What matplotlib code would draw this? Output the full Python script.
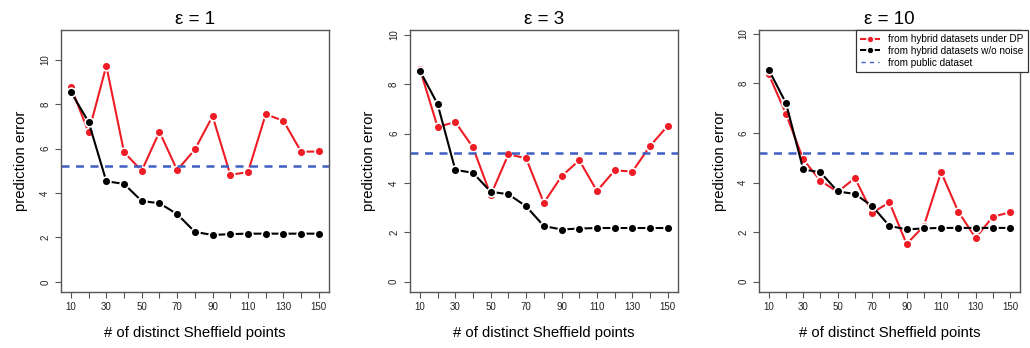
import matplotlib
matplotlib.use("Agg")
from matplotlib import pyplot as plt

plt.rcParams['font.family'] = ['Liberation Sans', 'DejaVu Sans']

# number of distinct Sheffield points
n_points = [10, 20, 30, 40, 50, 60, 70, 80, 90, 100, 110, 120, 130, 140, 150]
n_labels = ["10", "", "30", "", "50", "", "70", "", "90", "", "110", "", "130", "", "150"]

# prediction error, hybrid datasets under DP, one list per epsilon
dp_eps1 = [8.78, 6.73, 9.73, 5.84, 5.00, 6.76, 5.03, 5.96, 7.46, 4.82, 4.94, 7.55, 7.25, 5.86, 5.87]
dp_eps3 = [8.63, 6.27, 6.47, 5.44, 3.50, 5.16, 5.00, 3.19, 4.27, 4.92, 3.67, 4.51, 4.46, 5.50, 6.32]
dp_eps10 = [8.36, 6.77, 4.93, 4.07, 3.62, 4.18, 2.78, 3.20, 1.52, 2.25, 4.42, 2.82, 1.77, 2.62, 2.80]

# hybrid datasets without noise (same in every panel)
no_noise = [8.55, 7.20, 4.53, 4.41, 3.64, 3.54, 3.05, 2.25, 2.11, 2.15, 2.17, 2.17, 2.17, 2.17, 2.17]

# public dataset only
public_err = 5.2

titles = ["ε = 1", "ε = 3", "ε = 10"]
dp_series = [dp_eps1, dp_eps3, dp_eps10]
ylims = [(-0.44, 11.36), (-0.41, 10.22), (-0.40, 10.17)]

# axes boxes in figure fractions (left, bottom, width, height)
boxes = [(0.0592, 0.162, 0.260, 0.753),
         (0.398, 0.162, 0.260, 0.753),
         (0.737, 0.162, 0.253, 0.753)]

RED = '#ee1c25'
BLUE = '#3f5fc2'
BOX = '#555555'

fig = plt.figure(figsize=(10.3, 3.48), dpi=100)

for i in range(3):
    ax = fig.add_axes(boxes[i])
    ax.plot(n_points, dp_series[i], color=RED, lw=1.5, marker='o', ms=6.3,
            mfc=RED, mec='white', mew=1.2, label='from hybrid datasets under DP')
    ax.plot(n_points, no_noise, color='black', lw=1.5, marker='o', ms=6.3,
            mfc='black', mec='white', mew=1.2, label='from hybrid datasets w/o noise')
    ax.axhline(public_err, color=BLUE, lw=1.8, dashes=(3.2, 2.6),
               label='from public dataset')

    ax.set_xlim(4.4, 155.6)
    ax.set_ylim(*ylims[i])
    ax.set_xticks(n_points)
    ax.set_xticklabels(n_labels)
    ax.set_yticks([0, 2, 4, 6, 8, 10])
    ax.set_yticklabels(["0", "2", "4", "6", "8", "10"], rotation=90, va='center')
    ax.tick_params(direction='out', length=4.3, width=0.8, color=BOX,
                   labelsize=7, labelcolor='#222222')
    ax.tick_params(axis='y', pad=3.5)
    ax.tick_params(axis='x', pad=3.5)
    for s in ax.spines.values():
        s.set_color(BOX)
        s.set_linewidth(1.0)

    ax.set_title(titles[i], fontsize=13.5, y=1.02, pad=0)
    ax.set_xlabel('# of distinct Sheffield points', fontsize=10.7)
    ax.xaxis.set_label_coords(0.5, -0.13)
    ax.set_ylabel('prediction error', fontsize=10.7)
    ax.yaxis.set_label_coords(-0.125, 0.5)

    if i == 2:
        leg = ax.legend(loc='upper right', bbox_to_anchor=(1.03, 1.0), borderaxespad=0,
                        fontsize=7.2, frameon=True, fancybox=False, framealpha=1,
                        handlelength=1.8, handletextpad=0.9, labelspacing=0.18,
                        borderpad=0.45, markerscale=0.8)
        leg.get_frame().set_edgecolor('#333333')
        leg.get_frame().set_linewidth(0.9)
        handles = leg.legend_handles
        handles[2].set_linewidth(1.0)
        handles[2].set_dashes((3, 3))

fig.savefig('out.png', dpi=100)
